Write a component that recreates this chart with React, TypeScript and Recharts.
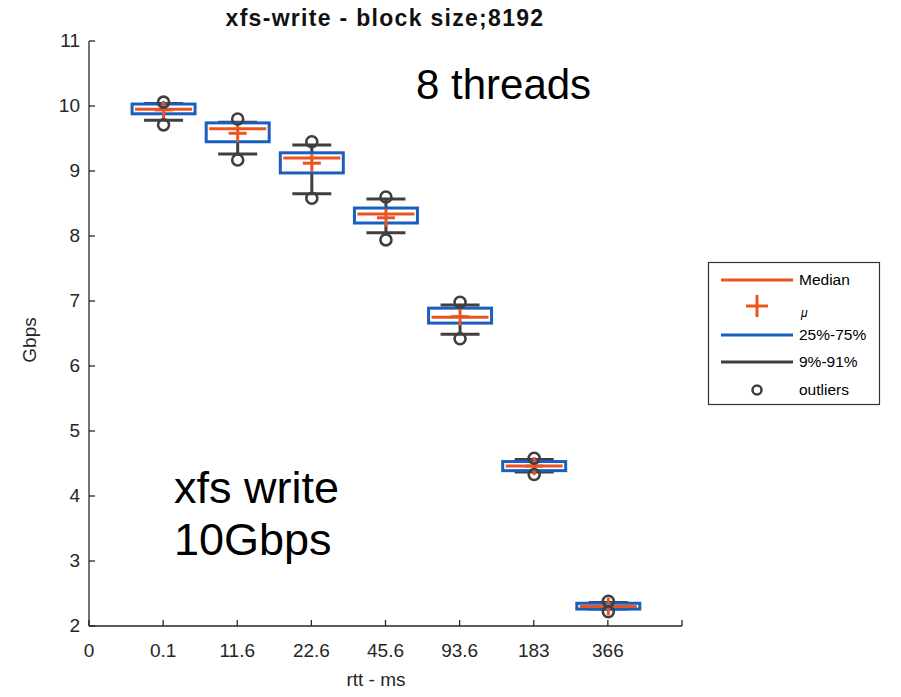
import React from "react";
import { ComposedChart, Bar, XAxis, YAxis } from "recharts";

// ---- data ----
const categories = ["0.1", "11.6", "22.6", "45.6", "93.6", "183", "366"];
const positions = [1, 2, 3, 4, 5, 6, 7];
const tickLabels = ["0", "0.1", "11.6", "22.6", "45.6", "93.6", "183", "366", ""];
const xTicks = [0, 1, 2, 3, 4, 5, 6, 7, 8];
const yTicks = [2, 3, 4, 5, 6, 7, 8, 9, 10, 11];

const lowOutlier = [9.71, 9.17, 8.58, 7.94, 6.42, 4.33, 2.22];
const whiskerLow = [9.78, 9.26, 8.65, 8.05, 6.49, 4.37, 2.26];
const q1 = [9.88, 9.45, 8.97, 8.2, 6.66, 4.39, 2.26];
const median = [9.95, 9.65, 9.2, 8.34, 6.75, 4.46, 2.3];
const mean = [9.94, 9.58, 9.12, 8.28, 6.76, 4.46, 2.3];
const q3 = [10.03, 9.74, 9.28, 8.43, 6.89, 4.53, 2.35];
const whiskerHigh = [10.04, 9.75, 9.4, 8.57, 6.94, 4.56, 2.36];
const highOutlier = [10.06, 9.8, 9.45, 8.6, 6.98, 4.58, 2.38];

const legendLabels = ["Median", "\u03bc", "25%-75%", "9%-91%", "outliers"];

const BLUE = "#1a5fbf";
const ORANGE = "#ea5420";
const GRAY = "#3f3f3f";
const AXIS = "#262626";
const FONT = "'Liberation Sans', Arial, sans-serif";

const data = positions.map((x, i) => ({
  x,
  label: categories[i],
  range: [lowOutlier[i], highOutlier[i]],
  lo: lowOutlier[i],
  wl: whiskerLow[i],
  q1: q1[i],
  med: median[i],
  mean: mean[i],
  q3: q3[i],
  wh: whiskerHigh[i],
  hi: highOutlier[i],
}));

// Box shape: the Bar spans [low outlier, high outlier]; the library's pixel
// extent of that range gives the scale used for the inner statistics.
const BoxShape = (props: any) => {
  const { x, y, width, height, payload } = props;
  if (payload == null || !isFinite(height)) return null;
  const top = payload.hi;
  const bottom = payload.lo;
  const k = height / (top - bottom);
  const py = (v: number) => y + (top - v) * k;
  const cx = x + width / 2;
  const capHalf = 19.5;
  const plus = 9;
  return (
    <g>
      <line x1={cx} x2={cx} y1={py(payload.wl)} y2={py(payload.wh)} stroke={GRAY} strokeWidth={3} />
      <line x1={cx - capHalf} x2={cx + capHalf} y1={py(payload.wl)} y2={py(payload.wl)} stroke={GRAY} strokeWidth={3} />
      <line x1={cx - capHalf} x2={cx + capHalf} y1={py(payload.wh)} y2={py(payload.wh)} stroke={GRAY} strokeWidth={3} />
      <rect
        x={x}
        y={py(payload.q3)}
        width={width}
        height={Math.max(py(payload.q1) - py(payload.q3), 1)}
        fill="#ffffff"
        stroke={BLUE}
        strokeWidth={3}
      />
      <line x1={x + 3} x2={x + width - 3} y1={py(payload.med)} y2={py(payload.med)} stroke={ORANGE} strokeWidth={3} />
      <line x1={cx - plus} x2={cx + plus} y1={py(payload.mean)} y2={py(payload.mean)} stroke={ORANGE} strokeWidth={3} />
      <line x1={cx} x2={cx} y1={py(payload.mean) - plus} y2={py(payload.mean) + plus} stroke={ORANGE} strokeWidth={3} />
      <circle cx={cx} cy={py(payload.hi)} r={5.5} fill="none" stroke={GRAY} strokeWidth={2.6} />
      <circle cx={cx} cy={py(payload.lo)} r={5.5} fill="none" stroke={GRAY} strokeWidth={2.6} />
    </g>
  );
};

const YTick = (props: any) => {
  const { x, y, payload } = props;
  return (
    <g>
      <line x1={x} x2={x + 6} y1={y} y2={y} stroke={AXIS} strokeWidth={1.3} />
      <text x={x - 9} y={y + 6} textAnchor="end" fontSize={19} fill={AXIS} fontFamily={FONT}>
        {payload.value}
      </text>
    </g>
  );
};

const XTick = (props: any) => {
  const { x, y, payload } = props;
  return (
    <g>
      <line x1={x} x2={x} y1={y} y2={y - 6} stroke={AXIS} strokeWidth={1.3} />
      <text x={x} y={y + 31} textAnchor="middle" fontSize={19} fill={AXIS} fontFamily={FONT}>
        {tickLabels[payload.value] ?? ""}
      </text>
    </g>
  );
};

const Overlay = () => {
  const rows = [280, 307, 335, 362, 390];
  return (
    <svg
      width={901}
      height={697}
      style={{ position: "absolute", left: 0, top: 0, pointerEvents: "none" }}
    >
      {/* titles and annotations */}
      <text x={385} y={26} textAnchor="middle" fontSize={23} letterSpacing={1.3} fontWeight="bold" fill="#111" fontFamily={FONT}>
        xfs-write - block size;8192
      </text>
      <text x={416} y={99} fontSize={42} fill="#000" fontFamily={FONT}>
        8 threads
      </text>
      <text x={174} y={503} fontSize={45} fill="#000" fontFamily={FONT}>
        xfs write
      </text>
      <text x={174} y={555} fontSize={45} fill="#000" fontFamily={FONT}>
        10Gbps
      </text>
      <text
        x={36}
        y={340}
        textAnchor="middle"
        fontSize={19}
        fill={AXIS}
        fontFamily={FONT}
        transform="rotate(-90 36 340)"
      >
        Gbps
      </text>
      <text x={376} y={686} textAnchor="middle" fontSize={19} fill={AXIS} fontFamily={FONT}>
        rtt - ms
      </text>

      {/* legend */}
      <rect x={708.5} y={262.5} width={171} height={142} fill="#fff" stroke="#333" strokeWidth={1.2} />
      <line x1={721} x2={793} y1={rows[0]} y2={rows[0]} stroke={ORANGE} strokeWidth={3} />
      <line x1={746} x2={768} y1={rows[1] - 1} y2={rows[1] - 1} stroke={ORANGE} strokeWidth={3} />
      <line x1={757} x2={757} y1={rows[1] - 12} y2={rows[1] + 10} stroke={ORANGE} strokeWidth={3} />
      <line x1={721} x2={793} y1={rows[2]} y2={rows[2]} stroke={BLUE} strokeWidth={3} />
      <line x1={721} x2={793} y1={rows[3]} y2={rows[3]} stroke={GRAY} strokeWidth={3} />
      <circle cx={757} cy={rows[4]} r={4.5} fill="none" stroke={GRAY} strokeWidth={2.5} />
      {legendLabels.map((t, i) =>
        i === 1 ? (
          <text key={t} x={801} y={rows[1] + 10} fontSize={12} fontStyle="italic" fill="#000" fontFamily={FONT}>
            {t}
          </text>
        ) : (
          <text key={t} x={799} y={rows[i] + 5} fontSize={15.5} fill="#000" fontFamily={FONT}>
            {t}
          </text>
        )
      )}
    </svg>
  );
};

export default function App() {
  return (
    <div style={{ position: "absolute", left: 0, top: 0, width: 901, height: 697, background: "#fff" }}>
      <ComposedChart
        width={901}
        height={697}
        data={data}
        margin={{ top: 41, right: 219, bottom: 41, left: 29 }}
      >
        <XAxis
          dataKey="x"
          type="number"
          domain={[0, 8]}
          ticks={xTicks}
          interval={0}
          tickSize={0}
          tickMargin={0}
          height={30}
          tick={<XTick />}
          axisLine={{ stroke: AXIS, strokeWidth: 1.3 }}
          allowDataOverflow
        />
        <YAxis
          type="number"
          domain={[2, 11]}
          ticks={yTicks}
          interval={0}
          tickSize={0}
          tickMargin={0}
          width={60}
          tick={<YTick />}
          axisLine={{ stroke: AXIS, strokeWidth: 1.3 }}
          allowDataOverflow
        />
        <Bar dataKey="range" barSize={63} shape={<BoxShape />} isAnimationActive={false} />
      </ComposedChart>
      <Overlay />
    </div>
  );
}
